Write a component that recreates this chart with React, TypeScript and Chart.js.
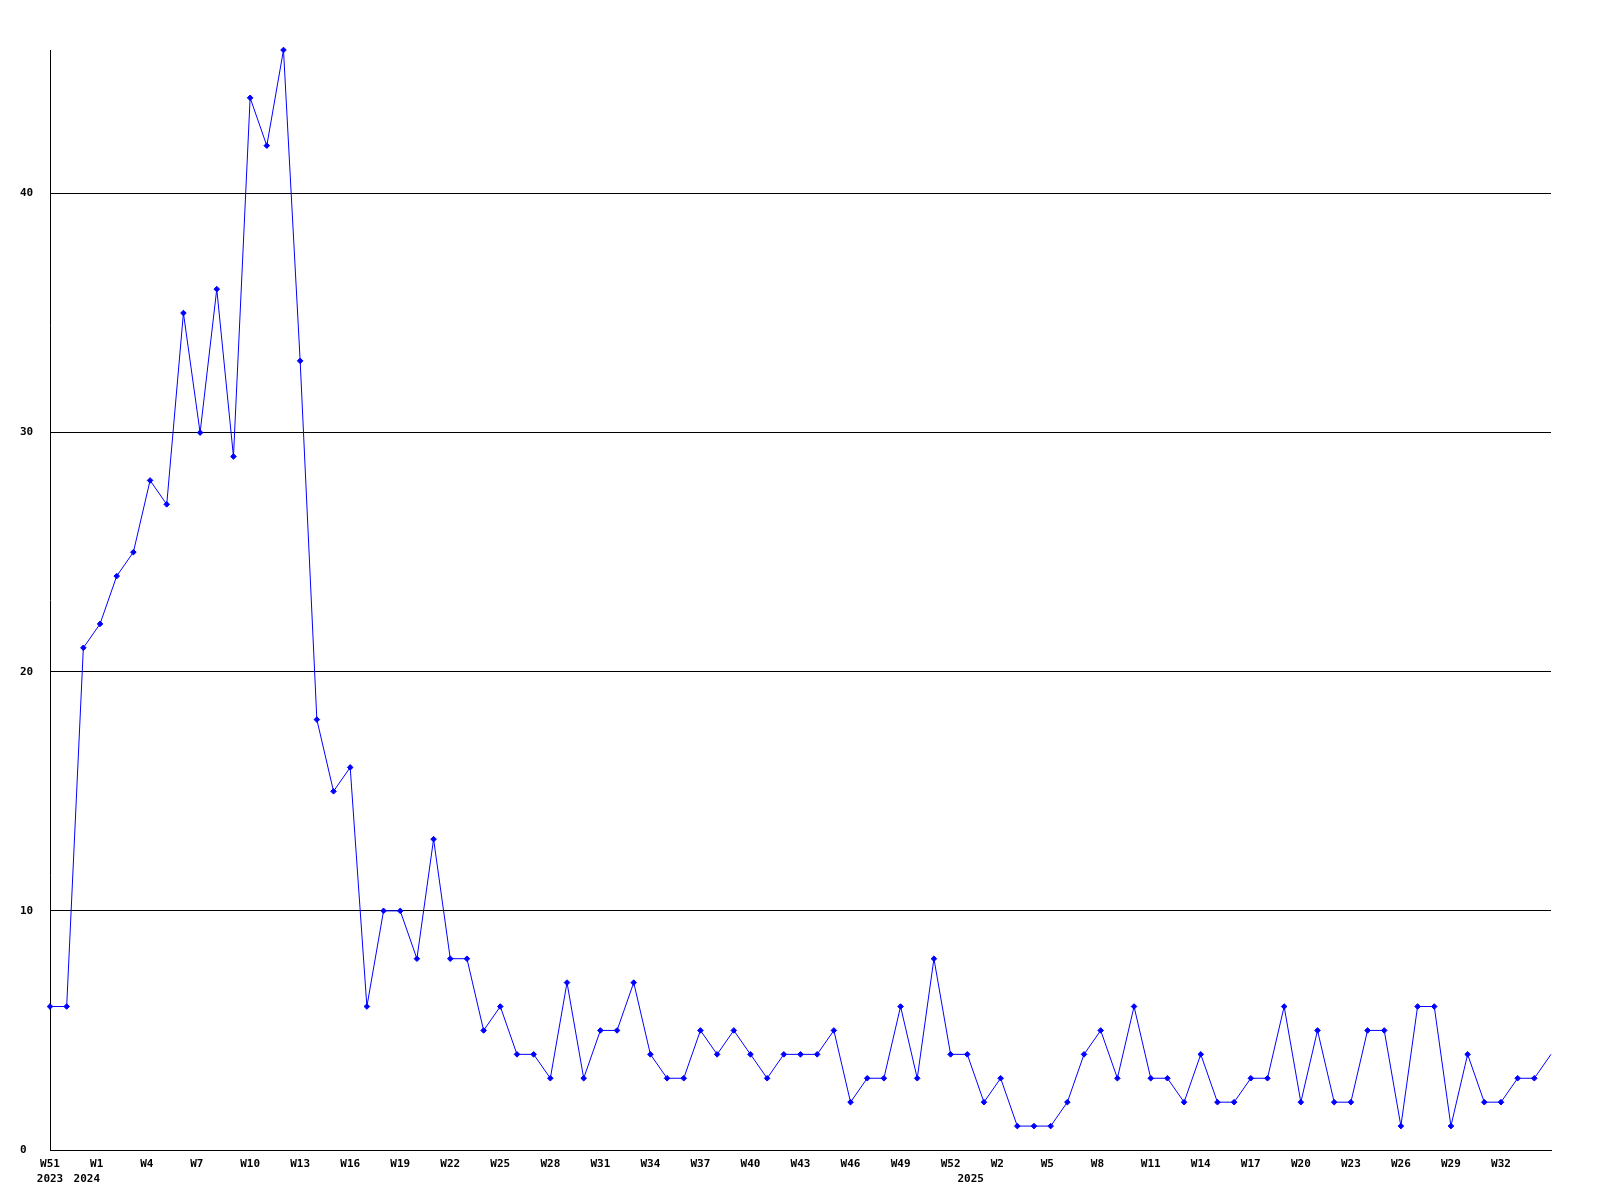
import React, { useEffect, useRef } from 'react';
import { Chart, registerables } from 'chart.js';

Chart.register(...registerables);

// Category weeks per year (x axis)
const weeks2023 = [51, 52, 53];
const weeks2024 = Array.from({ length: 53 }, (_, i) => i + 1);
const weeks2025 = Array.from({ length: 35 }, (_, i) => i + 1);

// Weekly counts
const counts = [
  6, 6, 21, 22, 24, 25, 28, 27, 35, 30,
  36, 29, 44, 42, 46, 33, 18, 15, 16, 6,
  10, 10, 8, 13, 8, 8, 5, 6, 4, 4,
  3, 7, 3, 5, 5, 7, 4, 3, 3, 5,
  4, 5, 4, 3, 4, 4, 4, 5, 2, 3,
  3, 6, 3, 8, 4, 4, 2, 3, 1, 1,
  1, 2, 4, 5, 3, 6, 3, 3, 2, 4,
  2, 2, 3, 3, 6, 2, 5, 2, 2, 5,
  5, 1, 6, 6, 1, 4, 2, 2, 3, 3,
  4,
];

const yTickValues = [0, 10, 20, 30, 40];
const yMax = 46;
const labelEvery = 3;

const categories: { year: number; week: number }[] = [
  ...weeks2023.map((w) => ({ year: 2023, week: w })),
  ...weeks2024.map((w) => ({ year: 2024, week: w })),
  ...weeks2025.map((w) => ({ year: 2025, week: w })),
];

const FONT = '"DejaVu Sans Mono", "Liberation Mono", monospace';

export default function App() {
  const ref = useRef<HTMLCanvasElement | null>(null);

  useEffect(() => {
    document.body.style.margin = '0';
    const canvas = ref.current;
    if (!canvas) return;
    const last = counts.length - 1;

    const tickLabel = (idx: number) => {
      const c = categories[idx];
      if (!c) return null;
      let line1 = '';
      if (idx % labelEvery === 0 && idx < last) {
        line1 = 'W' + c.week;
        if (line1.length < 3) line1 = line1 + ' ';
      }
      let line2 = '';
      const prev = categories[idx - 1];
      if (!prev || prev.year !== c.year) {
        line2 = idx === 0 ? String(c.year) : String(c.year) + '    ';
      }
      if (!line1 && !line2) return null;
      return [line1, line2];
    };

    const chart = new Chart(canvas, {
      type: 'line',
      data: {
        labels: categories.map((c) => c.year + '-W' + c.week),
        datasets: [
          {
            data: counts,
            borderColor: '#0000ff',
            backgroundColor: '#0000ff',
            borderWidth: 1,
            pointStyle: 'rectRot',
            pointRadius: (ctx: any) => (ctx.dataIndex === last ? 0 : 2.8),
            pointBorderWidth: 1,
            pointBorderColor: '#0000ff',
            pointBackgroundColor: '#0000ff',
            tension: 0,
            fill: false,
            clip: false as any,
          },
        ],
      },
      options: {
        responsive: false,
        animation: false,
        events: [],
        layout: { padding: { top: 50, right: 49, left: 20, bottom: 0 } },
        plugins: { legend: { display: false }, tooltip: { enabled: false } },
        scales: {
          x: {
            type: 'category',
            offset: false,
            grid: { display: false, drawTicks: false },
            border: { display: true, color: '#000000', width: 1 },
            ticks: {
              autoSkip: false,
              maxRotation: 0,
              minRotation: 0,
              padding: 7,
              color: '#000000',
              font: { family: FONT, size: 11, weight: 'bold', lineHeight: 15 / 11 },
              callback: (_v: any, idx: number) => tickLabel(idx) as any,
            },
            afterFit: (scale: any) => {
              scale.height = 50;
            },
          },
          y: {
            type: 'linear',
            min: 0,
            max: yMax,
            grid: { color: '#000000', lineWidth: 1, drawTicks: false },
            border: { display: true, color: '#000000', width: 1 },
            afterBuildTicks: (scale: any) => {
              scale.ticks = yTickValues.map((v) => ({ value: v }));
            },
            ticks: {
              crossAlign: 'far',
              padding: 17,
              color: '#000000',
              font: { family: FONT, size: 11, weight: 'bold' },
              callback: (v: any) => String(v),
            },
            afterFit: (scale: any) => {
              scale.width = 30;
            },
          },
        },
      },
    } as any);

    return () => chart.destroy();
  }, []);

  return (
    <div style={{ width: 1600, height: 1200, background: '#ffffff' }}>
      <canvas ref={ref} width={1600} height={1200} style={{ display: 'block' }} />
    </div>
  );
}
